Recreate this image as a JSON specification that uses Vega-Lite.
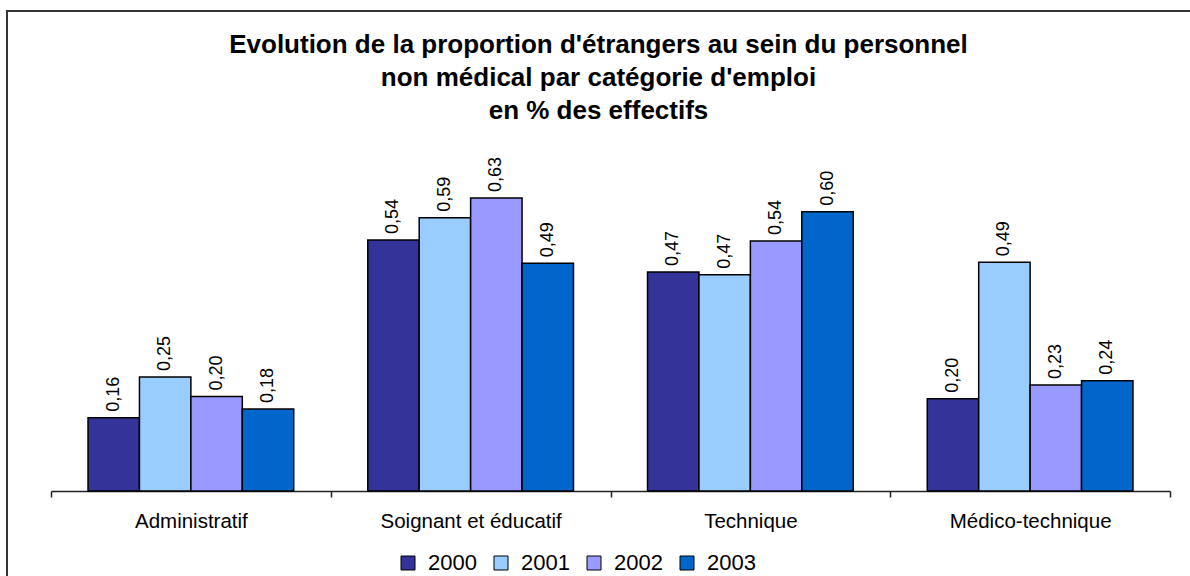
{
  "$schema": "https://vega.github.io/schema/vega-lite/v6.json",
  "autosize": {"type": "none"},
  "padding": {"left": 7, "top": 11, "right": 0, "bottom": 0},
  "width": 1183,
  "height": 565,
  "background": "white",
  "title": {
    "text": ["Evolution de la proportion d'étrangers au sein du personnel", "non médical par catégorie d'emploi", "en % des effectifs"],
    "font": "Liberation Sans",
    "fontSize": 26,
    "fontWeight": "bold",
    "lineHeight": 33,
    "anchor": "middle",
    "frame": "group",
    "offset": -113,
    "color": "black"
  },
  "data": {
    "values": [
      {"categorie": "Administratif", "annee": "2000", "valeur": 0.158},
      {"categorie": "Administratif", "annee": "2001", "valeur": 0.246},
      {"categorie": "Administratif", "annee": "2002", "valeur": 0.204},
      {"categorie": "Administratif", "annee": "2003", "valeur": 0.177},
      {"categorie": "Soignant et éducatif", "annee": "2000", "valeur": 0.542},
      {"categorie": "Soignant et éducatif", "annee": "2001", "valeur": 0.59},
      {"categorie": "Soignant et éducatif", "annee": "2002", "valeur": 0.633},
      {"categorie": "Soignant et éducatif", "annee": "2003", "valeur": 0.492},
      {"categorie": "Technique", "annee": "2000", "valeur": 0.473},
      {"categorie": "Technique", "annee": "2001", "valeur": 0.467},
      {"categorie": "Technique", "annee": "2002", "valeur": 0.54},
      {"categorie": "Technique", "annee": "2003", "valeur": 0.603},
      {"categorie": "Médico-technique", "annee": "2000", "valeur": 0.199},
      {"categorie": "Médico-technique", "annee": "2001", "valeur": 0.494},
      {"categorie": "Médico-technique", "annee": "2002", "valeur": 0.229},
      {"categorie": "Médico-technique", "annee": "2003", "valeur": 0.238}
    ]
  },
  "encoding": {
    "x": {
      "field": "categorie",
      "type": "nominal",
      "sort": ["Administratif", "Soignant et éducatif", "Technique", "Médico-technique"],
      "scale": {"range": [44, 1163], "paddingInner": 0, "paddingOuter": 0},
      "axis": {
        "title": null,
        "labelAngle": 0,
        "labelFont": "Liberation Sans",
        "labelFontSize": 20.5,
        "labelColor": "black",
        "labelLimit": 0,
        "labelPadding": 14,
        "tickSize": 6,
        "tickBand": "extent",
        "domainColor": "#222",
        "tickColor": "#222",
        "domainWidth": 1.5,
        "tickWidth": 1.5,
        "offset": -85,
        "grid": false
      }
    },
    "xOffset": {
      "field": "annee",
      "type": "nominal",
      "scale": {"paddingInner": 0, "paddingOuter": 0.72}
    },
    "y": {
      "field": "valeur",
      "type": "quantitative",
      "scale": {"domain": [-0.1836, 1.0367], "nice": false, "zero": false},
      "axis": null
    }
  },
  "layer": [
    {
      "mark": {"type": "bar", "stroke": "black", "strokeWidth": 1.5},
      "encoding": {
        "y2": {"datum": 0},
        "color": {
          "field": "annee",
          "type": "nominal",
          "scale": {"domain": ["2000", "2001", "2002", "2003"], "range": ["#333399", "#99CCFF", "#9999FF", "#0066CC"]},
          "legend": {
            "title": null,
            "orient": "none",
            "legendX": 390,
            "legendY": 541,
            "direction": "horizontal",
            "symbolType": "square",
            "symbolSize": 196,
            "symbolStrokeColor": "black",
            "symbolStrokeWidth": 1,
            "symbolOpacity": 1,
            "labelFont": "Liberation Sans",
            "labelFontSize": 22,
            "labelColor": "black",
            "labelOffset": 9,
            "columnPadding": 13,
            "padding": 0
          }
        }
      }
    },
    {
      "mark": {"type": "text", "angle": 270, "align": "left", "baseline": "middle", "dx": 6, "fontSize": 18, "font": "Liberation Sans", "color": "black"},
      "encoding": {
        "text": {"field": "valeur", "type": "quantitative", "format": ".2f"}
      }
    }
  ],
  "config": {
    "view": {"stroke": "#333", "strokeWidth": 2, "strokeDash": [1183, 1748, 565]},
    "locale": {"number": {"decimal": ",", "thousands": " ", "grouping": [3], "currency": ["", " €"]}}
  }
}
